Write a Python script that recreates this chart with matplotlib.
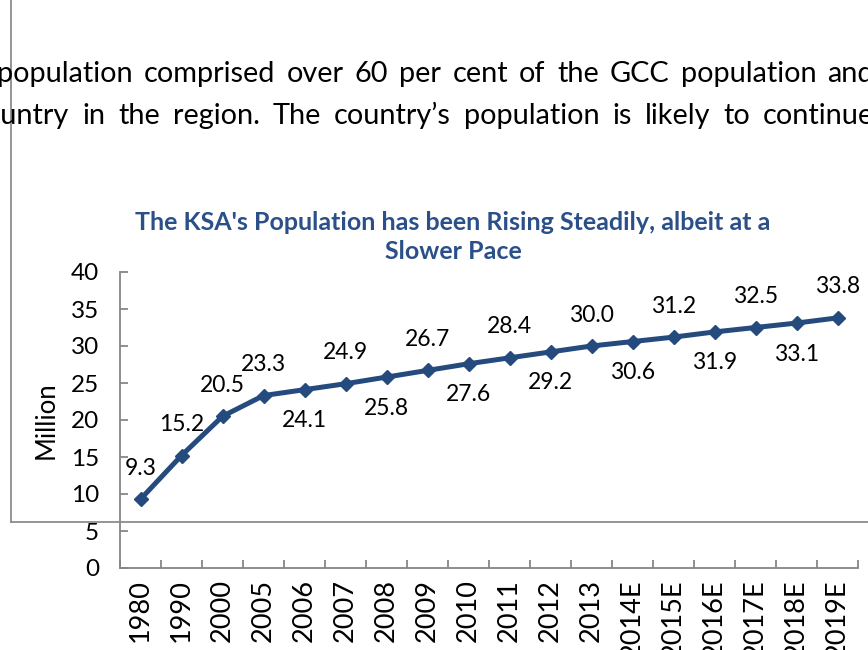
import matplotlib
matplotlib.use('Agg')
import matplotlib.pyplot as plt
from matplotlib.lines import Line2D

# 데이터
years = ['1980', '1990', '2000', '2005', '2006', '2007', '2008', '2009', '2010',
         '2011', '2012', '2013', '2014E', '2015E', '2016E', '2017E', '2018E', '2019E']
population = [9.3, 15.2, 20.5, 23.3, 24.1, 24.9, 25.8, 26.7, 27.6,
              28.4, 29.2, 30.0, 30.6, 31.2, 31.9, 32.5, 33.1, 33.8]
# 라벨 위(1)/아래(-1)
label_side = [1, 1, 1, 1, -1, 1, -1, 1, -1, 1, -1, 1, -1, 1, -1, 1, -1, 1]

body_line1 = 'population comprised over 60 per cent of the GCC population and'
body_line2 = 'country in the region. The country\u2019s population is likely to continue'
chart_title = "The KSA's Population has been Rising Steadily, albeit at a\nSlower Pace"

W, H = 868, 650
line_color = '#254A7E'
axis_gray = '#868686'
font = ['Lato', 'DejaVu Sans']

fig = plt.figure(figsize=(W / 100, H / 100), dpi=100)
renderer = fig.canvas.get_renderer()


def text_width(s, size):
    t = fig.text(0, 0, s, fontsize=size, family=font)
    w = t.get_window_extent(renderer).width
    t.remove()
    return w


# 양쪽정렬 흉내 (단어 간격 균등 배분)
def justify_line(line, y_px, x0, x1, size):
    words = line.split(' ')
    ws = [text_width(w, size) for w in words]
    gap = (x1 - x0 - sum(ws)) / (len(words) - 1)
    x = x0
    for w, wd in zip(words, ws):
        fig.text(x / W, 1 - y_px / H, w, fontsize=size, family=font,
                 va='baseline', ha='left', color='black')
        x += wd + gap


body_size = 20.8
justify_line(body_line1, 82, -3, 874, body_size)
justify_line(body_line2, 124, 1 - text_width('co', body_size), 874, body_size)

# 회색 테두리 선
fig.add_artist(Line2D([11 / W, 11 / W], [1.0, 1 - 522 / H], transform=fig.transFigure,
                      color='#8c8c8c', lw=1.3))
fig.add_artist(Line2D([11 / W, 1.0], [1 - 522 / H, 1 - 522 / H], transform=fig.transFigure,
                      color='#8c8c8c', lw=1.3))

ax = fig.add_axes([120 / W, 1 - 568 / H, 738 / W, 296 / H])
x = list(range(len(years)))
ax.plot(x, population, color=line_color, lw=3.6, marker='D', markersize=7.5,
        markerfacecolor=line_color, markeredgecolor=line_color)

for i, v in enumerate(population):
    ax.annotate(f'{v:.1f}', (i, v), xytext=(0, 31 * label_side[i]), textcoords='offset pixels',
                ha='center', va='center', fontsize=16.5, family=font, color='black')

ax.set_xlim(-0.5, len(years) - 0.5)
ax.set_ylim(0, 40)
ax.set_yticks(range(0, 41, 5))
ax.set_xticks(x)
ax.set_xticklabels(years, rotation=90, fontsize=19.5, family=font)
ax.set_xticks([i - 0.5 for i in range(len(years) + 1)], minor=True)
ax.tick_params(axis='x', which='major', length=0, pad=8)
ax.tick_params(axis='x', which='minor', direction='in', length=6, color=axis_gray, width=1.3)
ax.tick_params(axis='y', direction='in', length=6, color=axis_gray, width=1.3, labelsize=17.5, pad=15)
for lab in ax.get_yticklabels():
    lab.set_family(font)

for s in ['top', 'right']:
    ax.spines[s].set_visible(False)
for s in ['left', 'bottom']:
    ax.spines[s].set_color(axis_gray)
    ax.spines[s].set_linewidth(1.3)

ax.set_ylabel('Million', fontsize=18.5, family=font, labelpad=9)

fig.text(453 / W, 1 - 237 / H, chart_title,
         ha='center', va='center', fontsize=18, fontweight='bold', color='#2B5088',
         family=font, linespacing=1.3)

fig.savefig('out.png', dpi=100)
